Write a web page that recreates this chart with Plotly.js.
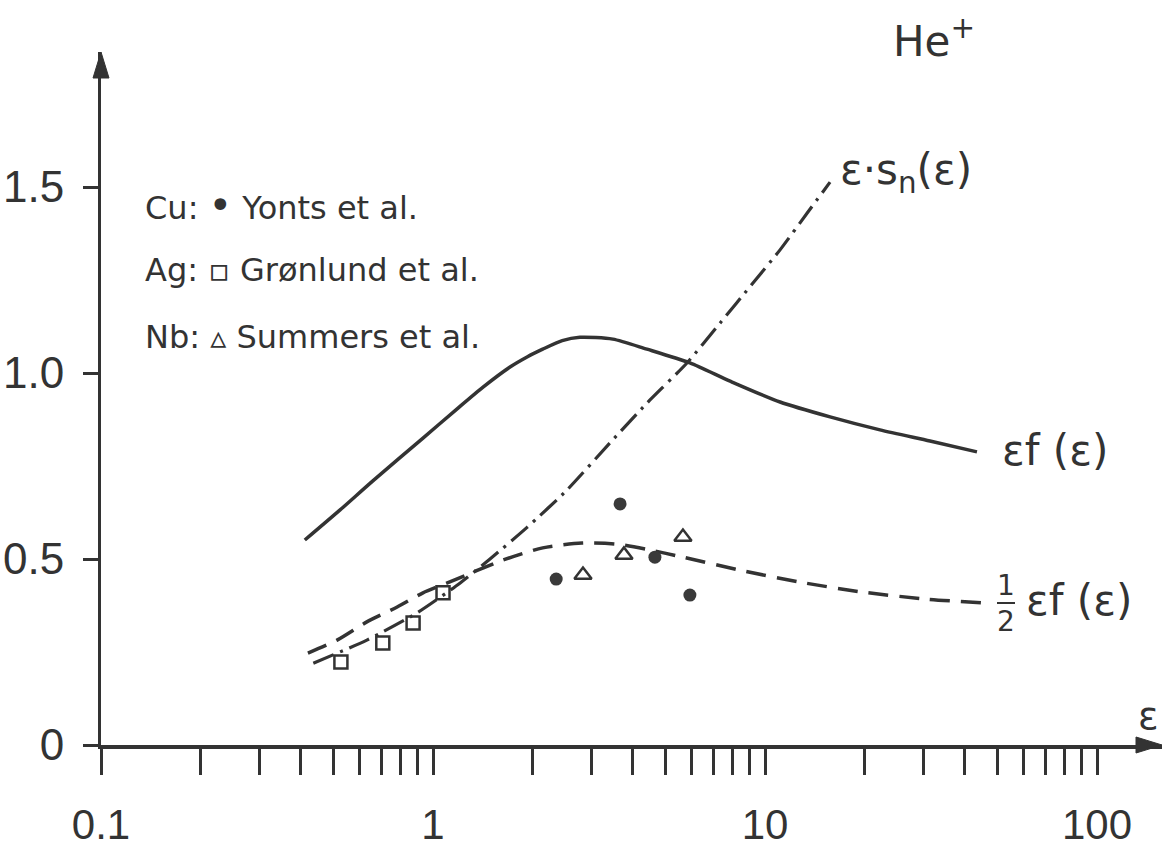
<!DOCTYPE html>
<html>
<head>
<meta charset="utf-8">
<script src="https://cdn.plot.ly/plotly-3.0.1.min.js"></script>
<style>html,body{margin:0;padding:0;background:#fff;}#chart{width:1165px;height:852px;}</style>
</head>
<body>
<div id="chart"></div>
<script>
// ε f(ε) – solid curve
const efX = [0.411, 0.525, 0.659, 0.933, 1.18, 1.415, 1.706, 1.92, 2.14, 2.45, 2.77, 3.48, 4.41, 5.94, 7.85, 11.1, 15.7, 22.2, 31.4, 43.5];
const efY = [0.551, 0.632, 0.710, 0.825, 0.903, 0.962, 1.016, 1.043, 1.064, 1.087, 1.096, 1.091, 1.064, 1.027, 0.978, 0.922, 0.882, 0.847, 0.817, 0.788];
// ½ ε f(ε) – dashed curve
const halfX = [0.420, 0.514, 0.632, 0.780, 0.933, 1.10, 1.625, 2.14, 2.81, 3.58, 4.41, 5.66, 8.41, 12.7, 19.7, 30.8, 45.1];
const halfY = [0.247, 0.282, 0.331, 0.371, 0.409, 0.435, 0.497, 0.530, 0.543, 0.540, 0.526, 0.505, 0.470, 0.438, 0.411, 0.392, 0.382];
// ε·sn(ε) – dash-dot curve
const snX = [0.436, 0.632, 0.895, 1.205, 1.485, 1.92, 2.53, 3.41, 4.41, 5.82, 7.32, 9.2, 11.1, 13.4, 15.7];
const snY = [0.220, 0.282, 0.355, 0.435, 0.500, 0.585, 0.685, 0.812, 0.919, 1.027, 1.134, 1.242, 1.331, 1.430, 1.513];
// Cu: Yonts et al.
const cuX = [2.35, 3.66, 4.66, 5.94];
const cuY = [0.446, 0.648, 0.505, 0.403];
// Ag: Grønlund et al.
const agX = [0.528, 0.706, 0.871, 1.072];
const agY = [0.223, 0.274, 0.328, 0.409];
// Nb: Summers et al.
const nbX = [2.83, 3.76, 5.66];
const nbY = [0.457, 0.511, 0.559];
// axis ticks
const xTickVals = [0.1,0.2,0.3,0.4,0.5,0.6,0.7,0.8,0.9,1,2,3,4,5,6,7,8,9,10,20,30,40,50,60,70,80,90,100];
const xTickText = ["0.1","","","","","","","","","1","","","","","","","","","10","","","","","","","","","100"];
const yTickVals = [0, 0.5, 1.0, 1.5];
const yTickText = ["0", "0.5", "1.0", "1.5"];

const ink = '#333333';
const txtFont = 'DejaVu Sans, sans-serif';
const numFont = 'Liberation Sans, Arial, sans-serif';

const traces = [
  {x: efX, y: efY, mode: 'lines', line: {color: ink, width: 3.5, shape: 'spline', smoothing: 0.7}, hoverinfo: 'skip'},
  {x: halfX, y: halfY, mode: 'lines', line: {color: ink, width: 3.5, dash: '20px,11px', shape: 'spline', smoothing: 0.7}, hoverinfo: 'skip'},
  {x: snX, y: snY, mode: 'lines', line: {color: ink, width: 3.2, dash: '22px,7px,3px,7px', shape: 'spline', smoothing: 0.6}, hoverinfo: 'skip'},
  {x: cuX, y: cuY, mode: 'markers', marker: {symbol: 'circle', size: 13, color: '#3a3a3a'}},
  {x: agX, y: agY, mode: 'markers', marker: {symbol: 'square-open', size: 13, color: ink, line: {width: 2.5, color: ink}}},
  {x: nbX, y: nbY, mode: 'markers', marker: {symbol: 'triangle-up-open', size: 15, color: ink, line: {width: 2.5, color: ink}}}
];

const W = 1061, H = 693; // plot area size in px
const annFont = (s) => ({family: txtFont, size: s, color: ink});
const annotations = [
  {xref:'paper', yref:'paper', x: 0.0396, y: 0.779, xanchor:'left', yanchor:'middle', showarrow:false, font: annFont(32),
   text: 'Cu: <span style="font-size:40px">•</span> Yonts et al.'},
  {xref:'paper', yref:'paper', x: 0.0396, y: 0.685, xanchor:'left', yanchor:'middle', showarrow:false, font: annFont(32),
   text: 'Ag: ▫ Grønlund et al.'},
  {xref:'paper', yref:'paper', x: 0.0396, y: 0.589, xanchor:'left', yanchor:'middle', showarrow:false, font: annFont(32),
   text: 'Nb: ▵ Summers et al.'},
  {xref:'paper', yref:'paper', x: (891-101)/W, y: (745-38)/H, xanchor:'left', yanchor:'middle', showarrow:false, font: annFont(42),
   text: 'He<sup>+</sup>'},
  {xref:'paper', yref:'paper', x: (838-101)/W, y: (745-172)/H, xanchor:'left', yanchor:'middle', showarrow:false, font: annFont(42),
   text: 'ε·s<sub>n</sub>(ε)'},
  {xref:'paper', yref:'paper', x: (1000-101)/W, y: (745-450)/H, xanchor:'left', yanchor:'middle', showarrow:false, font: annFont(42),
   text: 'εf (ε)'},
  {xref:'paper', yref:'paper', x: (1006-101)/W, y: (745-585)/H, xanchor:'center', yanchor:'middle', showarrow:false, font: annFont(28),
   text: '1'},
  {xref:'paper', yref:'paper', x: (1006-101)/W, y: (745-621)/H, xanchor:'center', yanchor:'middle', showarrow:false, font: annFont(28),
   text: '2'},
  {xref:'paper', yref:'paper', x: (1024-101)/W, y: (745-600)/H, xanchor:'left', yanchor:'middle', showarrow:false, font: annFont(42),
   text: 'εf (ε)'},
  {xref:'paper', yref:'paper', x: (1148-101)/W, y: (745-716)/H, xanchor:'center', yanchor:'middle', showarrow:false, font: annFont(38),
   text: 'ε'}
];

const shapes = [
  // x-axis arrow head
  {type:'path', xref:'paper', yref:'paper', fillcolor: ink, line:{color: ink, width: 1},
   path: `M 1 0 L ${1-26/W} ${8/H} L ${1-26/W} ${-8/H} Z`},
  // y-axis arrow head
  {type:'path', xref:'paper', yref:'paper', fillcolor: ink, line:{color: ink, width: 1},
   path: `M 0 1 L ${-8/W} ${1-26/H} L ${8/W} ${1-26/H} Z`},
  // fraction bar of 1/2
  {type:'line', xref:'paper', yref:'paper', x0:(997-101)/W, x1:(1015-101)/W, y0:(745-603)/H, y1:(745-603)/H, line:{color: ink, width: 2}}
];

const layout = {
  width: 1165, height: 852,
  margin: {l: 101, r: 3, t: 52, b: 107},
  paper_bgcolor: '#ffffff', plot_bgcolor: '#ffffff',
  showlegend: false,
  xaxis: {
    type: 'log', range: [-1, -1 + W/332], showgrid: false, zeroline: false,
    showline: true, linecolor: ink, linewidth: 3.5,
    ticks: 'outside', ticklen: 26, tickwidth: 3, tickcolor: ink,
    tickmode: 'array', tickvals: xTickVals, ticktext: xTickText, tickangle: 0,
    tickfont: {family: numFont, size: 42, color: ink}, ticklabelstandoff: 14
  },
  yaxis: {
    range: [0, H/372], showgrid: false, zeroline: false,
    showline: true, linecolor: ink, linewidth: 3,
    ticks: 'outside', ticklen: 15, tickwidth: 3, tickcolor: ink,
    tickmode: 'array', tickvals: yTickVals, ticktext: yTickText,
    tickfont: {family: numFont, size: 44, color: ink}, ticklabelstandoff: 10
  },
  annotations: annotations,
  shapes: shapes
};

Plotly.newPlot('chart', traces, layout, {displayModeBar: false, staticPlot: true});
</script>
</body>
</html>
